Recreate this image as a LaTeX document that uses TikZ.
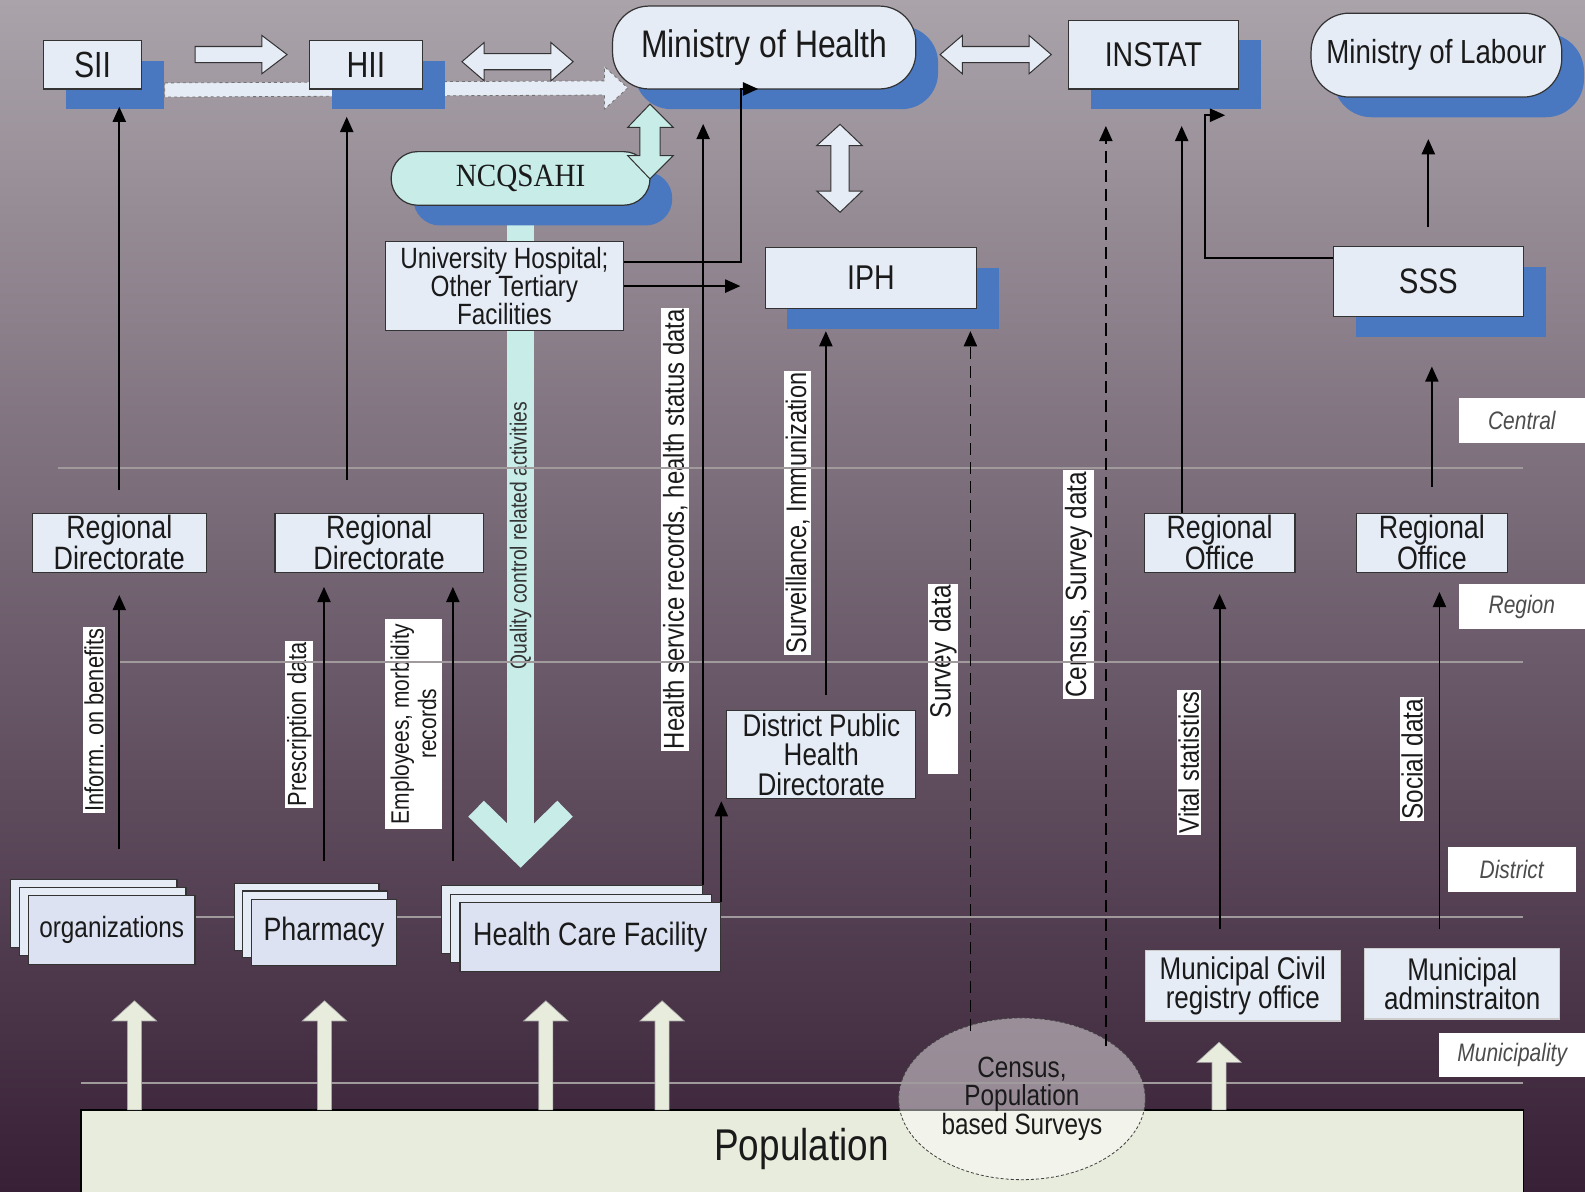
\documentclass[tikz,border=0pt]{standalone}
\usepackage{fontspec}
\setmainfont[FakeStretch=0.83]{Liberation Sans}
\newfontfamily\ncqfont[FakeStretch=0.9]{Liberation Serif}
\usetikzlibrary{arrows.meta,shadows,shapes.geometric}
\definecolor{bgtop}{RGB}{170,163,170}
\definecolor{bgmid}{RGB}{120,104,120}
\definecolor{bgbot}{RGB}{56,32,54}
\definecolor{boxfill}{RGB}{230,236,246}
\definecolor{frontfill}{RGB}{220,226,242}
\definecolor{shblue}{RGB}{74,120,192}
\definecolor{cyanf}{RGB}{200,236,232}
\definecolor{popfill}{RGB}{232,236,220}
\definecolor{txt}{RGB}{26,26,26}
\definecolor{gridl}{RGB}{160,154,156}
\begin{document}
\begin{tikzpicture}[x=1pt,y=-1pt,
  box/.style={draw=black!80, line width=1.2pt, fill=boxfill, text=txt, inner sep=0pt, align=center},
  shad/.style={general shadow={fill=shblue, shadow xshift=22pt, shadow yshift=-20pt}},
  conn/.style={draw=black, line width=1.8pt, -{Triangle[length=15pt,width=13pt]}},
  dconn/.style={conn, dash pattern=on 12pt off 7pt},
  vlab/.style={fill=white, text=txt, inner sep=1.5pt, rotate=90},
  lvl/.style={fill=white, text=black!70, inner sep=0pt, font=\itshape\fontsize{25}{25}\selectfont},
  blk/.style={fill=boxfill, draw=black!80, line width=1pt},
  gline/.style={draw=gridl, line width=2pt},
  uparr/.style={fill=popfill, draw=black!35, line width=0.6pt},
]
\useasboundingbox (0,0) rectangle (1568,1179);
\shade[top color=bgtop, middle color=bgmid, bottom color=bgbot] (0,0) rectangle (1568,1179);

% population and census
\node[draw=black, line width=1.5pt, fill=popfill, minimum width=1427pt, minimum height=90pt, inner sep=0pt] (pop) at (793.5,1143) {};
\node[text=txt, font=\fontsize{44}{44}\selectfont] (poptext) at (793,1137) {Population};
\node[ellipse, draw=black!75, densely dashed, line width=0.8pt, fill=white, fill opacity=0.45, text opacity=1, text=txt,
      minimum width=244pt, minimum height=160pt, inner sep=0pt, align=center, font=\fontsize{29}{28.5}\selectfont]
      (census) at (1011,1087) {Census,\\Population\\based Surveys};

% cyan quality control arrow
\fill[cyanf] (502,205) rectangle (528,843);
\draw[cyanf, line width=22pt] (471,800) -- (515,843) -- (559,800);
\node[rotate=90, text=black!80, inner sep=0pt, font=\fontsize{23}{23}\selectfont] (lqc) at (515,530) {Quality control related activities};

% rotated labels
\node[vlab, font=\fontsize{26}{26}\selectfont] (linf) at (93,712.5) {Inform. on benefits};
\node[vlab, font=\fontsize{26}{26}\selectfont] (lpre) at (296,716.5) {Prescription data};
\node[vlab, align=center, font=\fontsize{25}{27}\selectfont, minimum width=208pt, minimum height=56pt] (lemp) at (409,716) {Employees, morbidity\\records};
\node[vlab, font=\fontsize{28.5}{28.5}\selectfont] (lhsr) at (668,523.5) {Health service records, health status data};
\node[vlab, font=\fontsize{28}{28}\selectfont] (lsur) at (789,507.5) {Surveillance, Immunization};
\node[vlab, font=\fontsize{29}{29}\selectfont, text width=185pt, align=right, minimum height=30pt] (lsvy) at (933,671.5) {Survey data};
\node[vlab, font=\fontsize{29}{29}\selectfont] (lcen) at (1067,578.5) {Census, Survey data};
\node[vlab, font=\fontsize{28}{28}\selectfont] (lvit) at (1176,754) {Vital statistics};
\node[vlab, font=\fontsize{29}{29}\selectfont] (lsoc) at (1397,751) {Social data};

% level lines
\draw[gline] (57,463) -- (1507,463);
\draw[gline] (117,655) -- (1507,655);
\draw[gline] (57,907) -- (1507,907);
\draw[gline] (80,1071) -- (1507,1071);

% level labels
\node[lvl, minimum width=125pt, minimum height=44pt] (central) at (1505.5,416) {Central};
\node[lvl, minimum width=125pt, minimum height=44pt] (region) at (1505.5,600) {Region};
\node[lvl, minimum width=127pt, minimum height=44pt] (district) at (1495.5,860) {District};
\node[lvl, minimum width=144pt, minimum height=43pt] (municip) at (1496,1043.5) {Municipality};

% population up arrows
\foreach \ux in {133,321,540,655}
  \path[uparr] (\ux-7,1098) -- (\ux-7,1010) -- (\ux-22,1010) -- (\ux,990) -- (\ux+22,1010) -- (\ux+7,1010) -- (\ux+7,1098) -- cycle;
\path[uparr] (1199,1098) -- (1199,1051) -- (1184,1051) -- (1206,1031) -- (1228,1051) -- (1213,1051) -- (1213,1098) -- cycle;

% dashed fat arrow SII -> MoH
\path[fill=boxfill, draw=black!55, dashed, line width=0.8pt] (163,82) -- (598,80) -- (598,66) -- (621,87) -- (598,108) -- (598,94) -- (163,96) -- cycle;

% top nodes
\node[box, shad, minimum width=97pt, minimum height=48pt, font=\fontsize{36}{36}\selectfont] (sii) at (91.5,64) {SII};
\node[box, shad, minimum width=112pt, minimum height=48pt, font=\fontsize{36}{36}\selectfont] (hii) at (362,64) {HII};
\node[box, shad, rounded corners=36pt, minimum width=300pt, minimum height=82pt, font=\fontsize{38}{38}\selectfont] (moh) at (756,47) {Ministry of Health};
\node[box, shad, minimum width=168pt, minimum height=68pt, font=\fontsize{34}{34}\selectfont] (instat) at (1141,54) {INSTAT};
\node[box, shad, rounded corners=38pt, minimum width=248pt, minimum height=83pt, font=\fontsize{33}{33}\selectfont] (mol) at (1421,54.5) {Ministry of Labour};
\node[box, shad, fill=cyanf, rounded corners=26pt, minimum width=256pt, minimum height=53pt, font=\ncqfont\fontsize{32}{32}\selectfont] (ncq) at (515,176.5) {NCQSAHI};
\node[box, minimum width=236pt, minimum height=88pt, font=\fontsize{29}{26}\selectfont] (uh) at (499,283) {University Hospital;\\Other Tertiary\\Facilities};
\node[box, shad, minimum width=209pt, minimum height=60pt, font=\fontsize{34}{34}\selectfont] (iph) at (861.5,275) {IPH};
\node[box, shad, minimum width=188pt, minimum height=69pt, font=\fontsize{35}{35}\selectfont] (sss) at (1413,278.5) {SSS};

% regional nodes
\node[box, minimum width=172pt, minimum height=58pt, font=\fontsize{32}{28}\selectfont] (rd1) at (118,537) {Regional\\Directorate};
\node[box, minimum width=206pt, minimum height=58pt, font=\fontsize{32}{28}\selectfont] (rd2) at (375,537) {Regional\\Directorate};
\node[box, minimum width=149pt, minimum height=58pt, font=\fontsize{32}{28}\selectfont] (ro1) at (1206.5,537) {Regional\\Office};
\node[box, minimum width=149pt, minimum height=58pt, font=\fontsize{32}{28}\selectfont] (ro2) at (1416.5,537) {Regional\\Office};

% district / municipal nodes
\node[box, minimum width=187pt, minimum height=87pt, font=\fontsize{31}{29}\selectfont] (dphd) at (812.5,746.5) {District Public\\Health\\Directorate};
\node[box, draw=white!80!black, minimum width=193pt, minimum height=70pt, font=\fontsize{31}{29}\selectfont] (mcro) at (1229.5,975) {Municipal Civil\\registry office};
\node[box, draw=white!80!black, minimum width=193pt, minimum height=70pt, font=\fontsize{31}{29}\selectfont] (madm) at (1446.5,973) {Municipal\\adminstraiton};

% stacked boxes
\node[box, minimum width=165pt, minimum height=67pt] (orgback) at (92.5,903.5) {};
\node[box, minimum width=165pt, minimum height=67pt] (orgmid) at (101.5,911.5) {};
\node[box, fill=frontfill, minimum width=165pt, minimum height=68pt, font=\fontsize{29}{29}\selectfont] (org) at (110.5,920) {organizations};
\node[box, minimum width=143pt, minimum height=66pt] (pharmback) at (303.5,907) {};
\node[box, minimum width=143pt, minimum height=66pt] (pharmmid) at (311.5,914.5) {};
\node[box, fill=frontfill, minimum width=143pt, minimum height=65pt, font=\fontsize{32}{32}\selectfont] (pharm) at (320.5,922.5) {Pharmacy};
\node[box, minimum width=258pt, minimum height=67pt] (hcfback) at (566,909.5) {};
\node[box, minimum width=258pt, minimum height=67pt] (hcfmid) at (575,918.5) {};
\node[box, fill=frontfill, minimum width=258pt, minimum height=68pt, font=\fontsize{32}{32}\selectfont] (hcf) at (584,927) {Health Care Facility};

% block arrows
\path[blk] (193,46) -- (259,46) -- (259,35) -- (284,54) -- (259,73) -- (259,62) -- (193,62) -- cycle;
\path[blk] (457,61) -- (479,42) -- (479,53) -- (545,53) -- (545,42) -- (567,61) -- (545,80) -- (545,69) -- (479,69) -- (479,80) -- cycle;
\path[blk] (930,54) -- (952,35) -- (952,46) -- (1018,46) -- (1018,35) -- (1040,54) -- (1018,73) -- (1018,62) -- (952,62) -- (952,73) -- cycle;
\path[blk] (831,123) -- (853,144) -- (840,144) -- (840,189) -- (853,189) -- (831,210) -- (808,189) -- (822,189) -- (822,144) -- (808,144) -- cycle;
\path[blk, fill=cyanf] (643,103) -- (666,126) -- (653,126) -- (653,154) -- (666,154) -- (643,177) -- (621,154) -- (633,154) -- (633,126) -- (621,126) -- cycle;

% coordinates for connectors
\coordinate (uhbend) at (733,88);
\coordinate (uhmoh) at (750,88);
\coordinate (ssbend) at (1192,114);
\coordinate (ssinstat) at (1212,114);
\coordinate (hcfrd) at (448,852);
\coordinate (dpx) at ([xshift=4.5pt]dphd.north);
\coordinate (csa) at (960,1020);
\coordinate (csb) at (1094,1035);
\coordinate (ro1x) at ([xshift=-37.5pt]ro1.north);
\coordinate (madx) at ([xshift=7.5pt]ro2.south);
\coordinate (rd2x) at ([xshift=-32pt]rd2.north);

% connectors
\draw[conn, shorten <=23pt, shorten >=17pt] (rd1.north) -- (rd1.north |- sii.south);
\draw[conn, shorten <=33pt, shorten >=27pt] (rd2x) -- (rd2x |- hii.south);
\draw[conn, shorten <=30pt, shorten >=22pt] (rd1.south |- orgback.north) -- (rd1.south);
\draw[conn, shorten <=22pt, shorten >=14pt] (pharm.center |- pharmback.north) -- (pharm.center |- rd2.south);
\draw[conn, shorten >=14pt] (hcfrd) -- (hcfrd |- rd2.south);
\draw[conn, shorten >=34pt] (hcfback.north east) -- (hcfback.north east |- moh.south);
\draw[conn, shorten >=2pt] (hcf.north east) -- (hcf.north east |- dphd.south);
\draw[conn, shorten <=15pt, shorten >=22pt] (dpx) -- (dpx |- iph.south);
\draw[conn] ([yshift=24pt]uh.east) -| (uhbend) -- (uhmoh);
\draw[conn, shorten >=24pt] (uh.east) -- (uh.east -| iph.west);
\draw[dconn, shorten >=22pt] (csa) -- (csa |- iph.south);
\draw[dconn, shorten >=36pt] (csb) -- (csb |- instat.south);
\draw[conn, shorten >=36pt] (ro1x) -- (ro1x |- instat.south);
\draw[conn, shorten <=20pt, shorten >=21pt] (ro1.south |- mcro.north) -- (ro1.south);
\draw[conn] ([yshift=23.5pt]sss.west) -| (ssbend) -- (ssinstat);
\draw[conn, shorten <=19pt, shorten >=41pt] (sss.north) -- (sss.north |- mol.south);
\draw[conn, shorten <=26pt, shorten >=49pt] (ro2.north) -- (ro2.north |- sss.south);
\draw[conn, shorten <=18pt, shorten >=19pt] (madx |- madm.north) -- (madx);
\end{tikzpicture}
\end{document}
